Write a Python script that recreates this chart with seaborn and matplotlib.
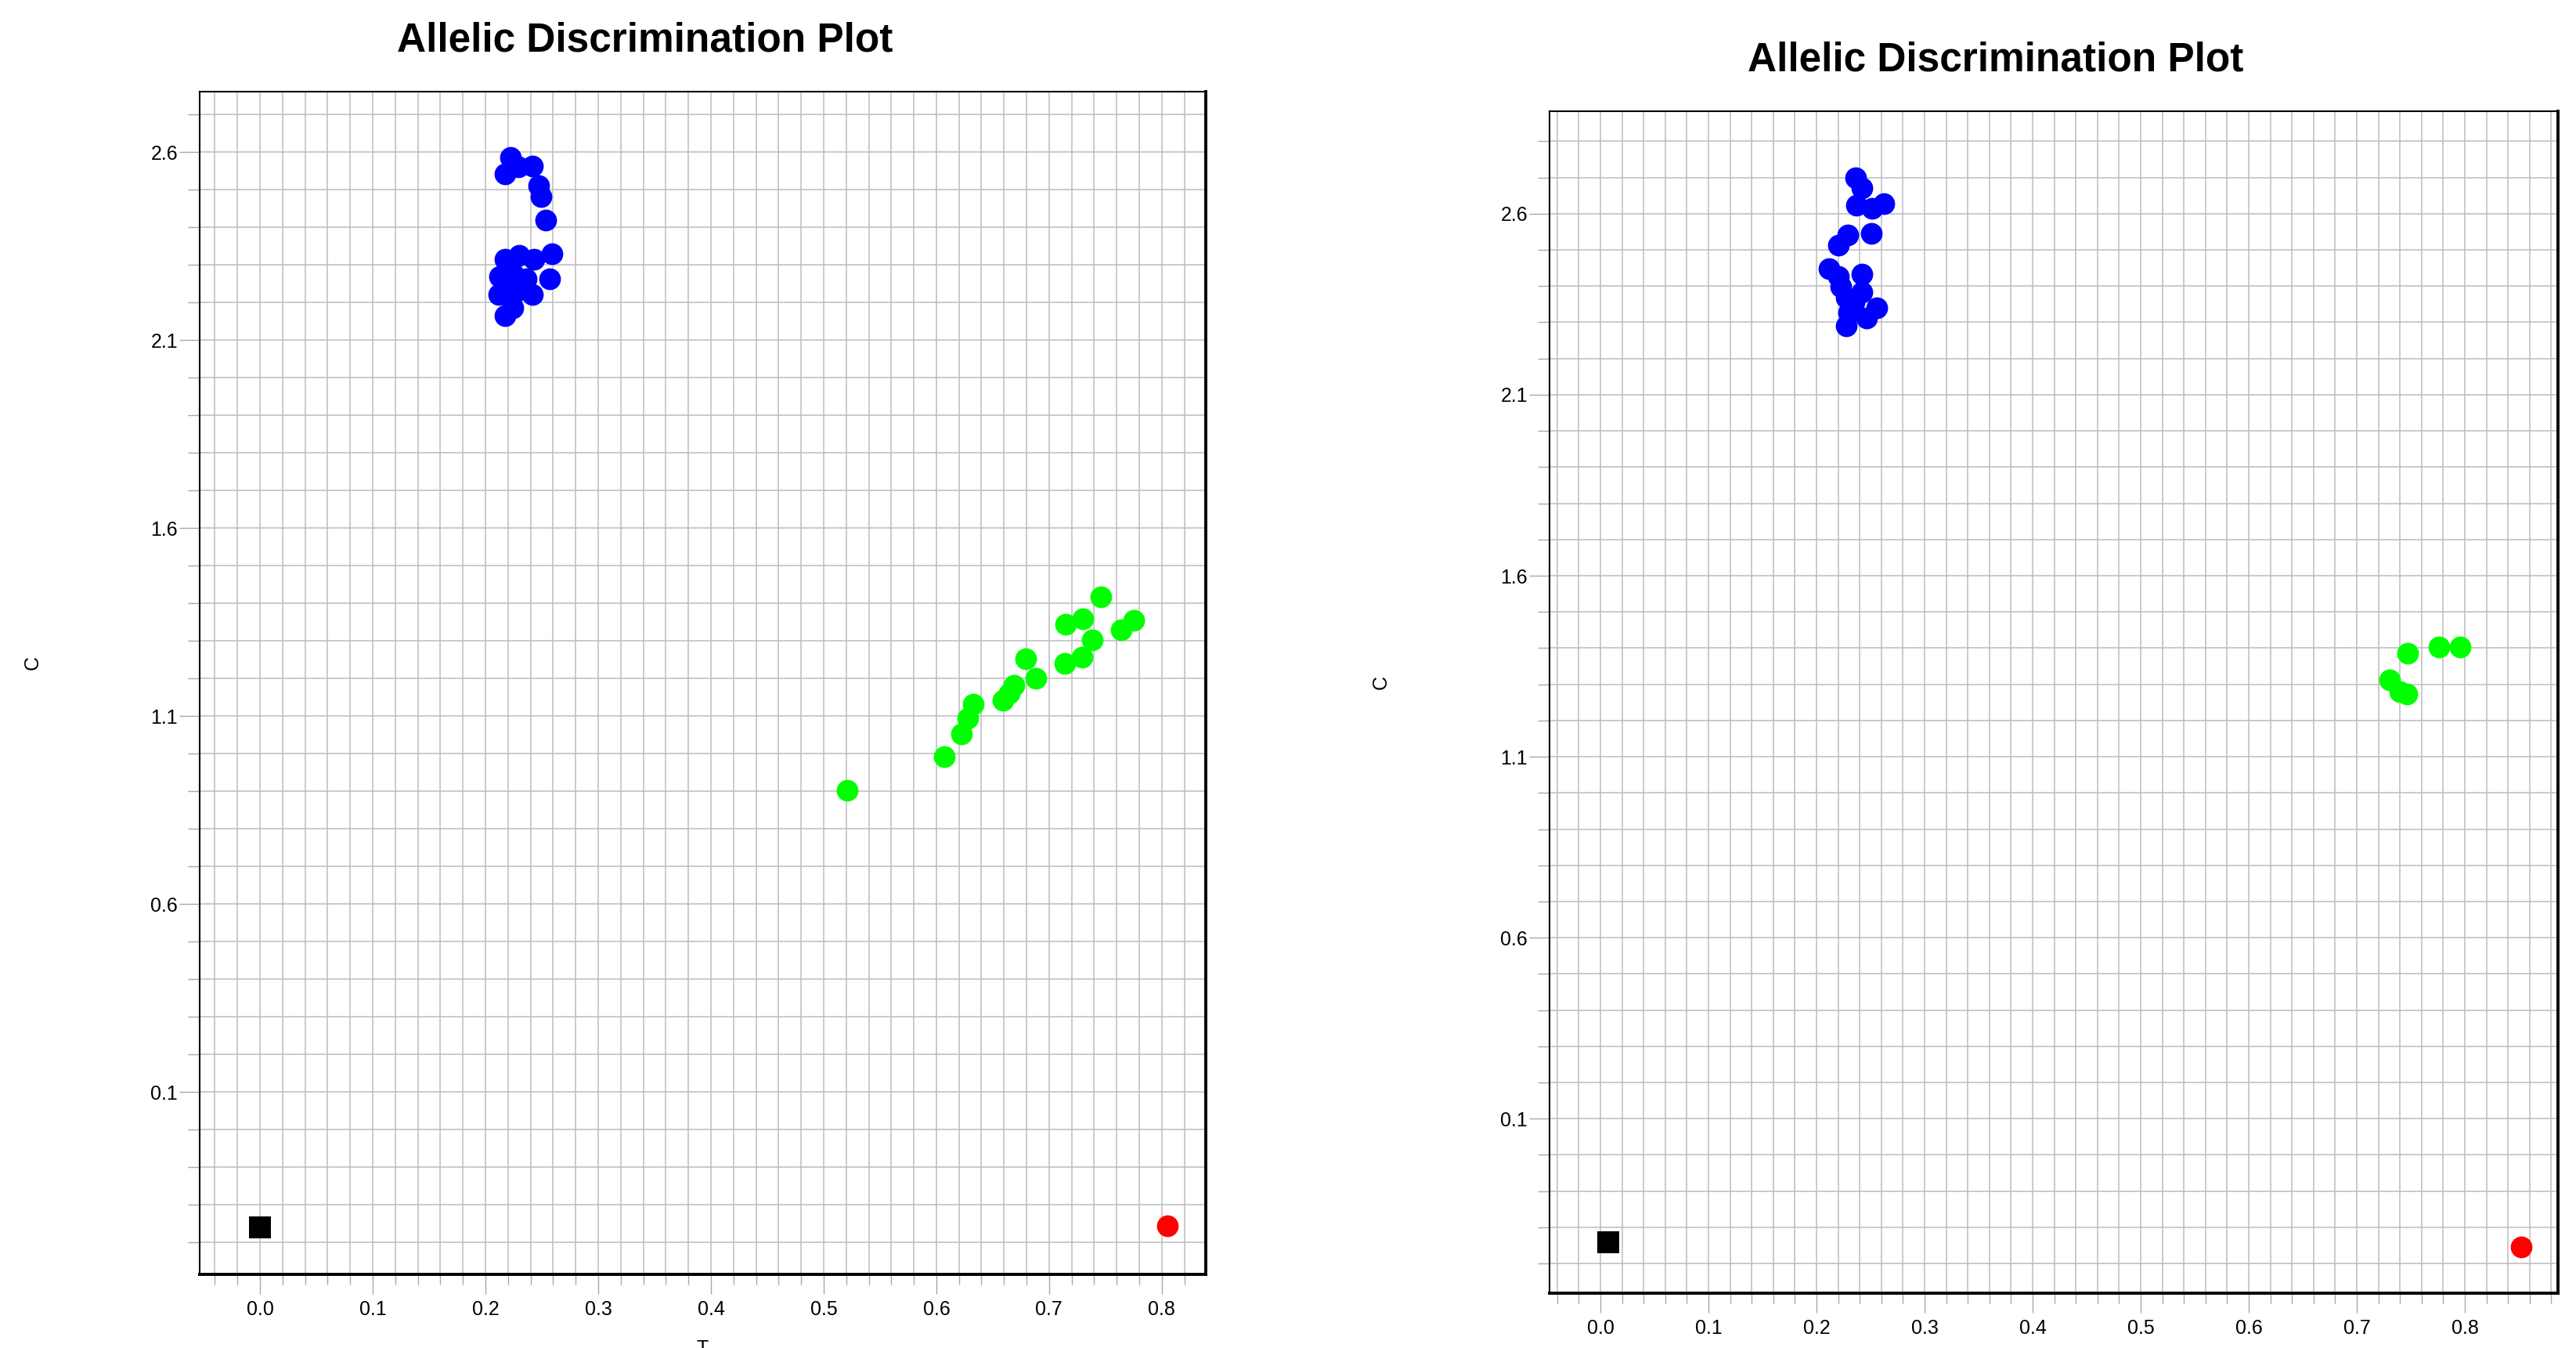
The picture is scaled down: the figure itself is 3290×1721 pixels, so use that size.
import matplotlib
matplotlib.use("Agg")
import matplotlib.pyplot as plt
from matplotlib.ticker import FixedLocator, MultipleLocator, FixedFormatter, NullFormatter
import seaborn as sns
import pandas as pd

# ---------------- data ----------------
title_text = "Allelic Discrimination Plot"
x_label = "T"
y_label = "C"
x_ticks = [0.0, 0.1, 0.2, 0.3, 0.4, 0.5, 0.6, 0.7, 0.8]
x_tick_labels = ["0.0", "0.1", "0.2", "0.3", "0.4", "0.5", "0.6", "0.7", "0.8"]
y_ticks = [0.1, 0.6, 1.1, 1.6, 2.1, 2.6]
y_tick_labels = ["0.1", "0.6", "1.1", "1.6", "2.1", "2.6"]

# left panel
left_blue_x = [0.2225, 0.2174, 0.229, 0.2417, 0.2475, 0.2494, 0.2533, 0.259,
               0.2174, 0.230, 0.243, 0.2568, 0.2128, 0.2244, 0.236, 0.2116,
               0.2267, 0.2417, 0.2174, 0.2244, 0.220, 0.231]
left_blue_y = [2.585, 2.543, 2.560, 2.564, 2.512, 2.481, 2.419, 2.329,
               2.315, 2.325, 2.315, 2.263, 2.270, 2.277, 2.263, 2.221,
               2.228, 2.221, 2.166, 2.187, 2.242, 2.249]
left_green_x = [0.521, 0.607, 0.622, 0.628, 0.633, 0.659, 0.665, 0.669, 0.679,
                0.688, 0.714, 0.729, 0.738, 0.715, 0.730, 0.746, 0.764, 0.775]
left_green_y = [0.903, 0.992, 1.052, 1.094, 1.132, 1.142, 1.160, 1.181, 1.253,
                1.201, 1.240, 1.257, 1.302, 1.344, 1.358, 1.417, 1.330, 1.354]
left_red_x = [0.805]
left_red_y = [-0.256]
left_ntc_x = [0.0]
left_ntc_y = [-0.26]

# right panel
right_blue_x = [0.2359, 0.2419, 0.237, 0.2516, 0.262, 0.2504, 0.220, 0.229,
                0.2118, 0.220, 0.242, 0.2275, 0.242, 0.256, 0.230, 0.2275,
                0.2467, 0.2226, 0.2347]
right_blue_y = [2.700, 2.671, 2.624, 2.614, 2.628, 2.545, 2.513, 2.542,
                2.448, 2.427, 2.434, 2.369, 2.383, 2.340, 2.326, 2.290,
                2.311, 2.398, 2.355]
right_green_x = [0.7473, 0.7764, 0.7958, 0.7303, 0.740, 0.746]
right_green_y = [1.386, 1.404, 1.404, 1.313, 1.280, 1.273]
right_red_x = [0.852]
right_red_y = [-0.255]
right_ntc_x = [0.007]
right_ntc_y = [-0.242]

# ---------------- style ----------------
sns.set_theme(style="white")
plt.rcParams["font.family"] = ["Liberation Sans", "DejaVu Sans"]
plt.rcParams["text.color"] = "black"
plt.rcParams["axes.labelcolor"] = "black"

fig = plt.figure(figsize=(32.9, 17.21), dpi=100)
ax_l = fig.add_axes([255 / 3290, (1721 - 1626.5) / 1721, (1540 - 255) / 3290, (1626.5 - 117) / 1721])
ax_r = fig.add_axes([1979 / 3290, (1721 - 1651) / 1721, (3267 - 1979) / 3290, (1651 - 141.6) / 1721])

GRID = "#bcbcbc"
TICK = "#a8a8a8"
MS = 400


def draw(ax, bx, by, gx, gy, rx, ry, nx, ny):
    sns.scatterplot(x=bx, y=by, ax=ax, color="#0000ff", s=MS, linewidth=0, legend=False, zorder=3)
    sns.scatterplot(x=gx, y=gy, ax=ax, color="#00ff00", s=MS, linewidth=0, legend=False, zorder=3)
    sns.scatterplot(x=rx, y=ry, ax=ax, color="#ff0000", s=MS, linewidth=0, legend=False, zorder=3)
    sns.scatterplot(x=nx, y=ny, ax=ax, color="#000000", marker="s", s=MS, linewidth=0, legend=False, zorder=3)


draw(ax_l, left_blue_x, left_blue_y, left_green_x, left_green_y,
     left_red_x, left_red_y, left_ntc_x, left_ntc_y)
draw(ax_r, right_blue_x, right_blue_y, right_green_x, right_green_y,
     right_red_x, right_red_y, right_ntc_x, right_ntc_y)

ax_l.set_xlim(-0.0535, 0.839)
ax_l.set_ylim(-0.384, 2.761)
ax_r.set_xlim(-0.0471, 0.8862)
ax_r.set_ylim(-0.382, 2.884)

for ax in (ax_l, ax_r):
    ax.set_axisbelow(True)
    ax.xaxis.set_major_locator(FixedLocator(x_ticks))
    ax.xaxis.set_major_formatter(FixedFormatter(x_tick_labels))
    ax.xaxis.set_minor_locator(MultipleLocator(0.02))
    ax.xaxis.set_minor_formatter(NullFormatter())
    ax.yaxis.set_major_locator(FixedLocator(y_ticks))
    ax.yaxis.set_major_formatter(FixedFormatter(y_tick_labels))
    ax.yaxis.set_minor_locator(MultipleLocator(0.1))
    ax.yaxis.set_minor_formatter(NullFormatter())
    ax.grid(True, which="both", axis="both", color=GRID, linewidth=1.1)
    ax.tick_params(axis="x", which="major", bottom=True, length=18, width=1, color=TICK,
                   labelsize=18, pad=6, labelcolor="black")
    ax.tick_params(axis="x", which="minor", bottom=True, length=9, width=1, color=TICK)
    ax.tick_params(axis="y", which="major", left=True, length=19, width=1, color=TICK,
                   labelsize=18, pad=1, labelcolor="black")
    ax.tick_params(axis="y", which="minor", left=True, length=11, width=1, color=TICK)
    for side in ("left", "top"):
        ax.spines[side].set_color("black")
        ax.spines[side].set_linewidth(1.5)
    for side in ("right", "bottom"):
        ax.spines[side].set_color("black")
        ax.spines[side].set_linewidth(2.8)
    ax.set_xlabel(x_label, fontsize=18, va="top", color="black")
    ax.set_ylabel(y_label, fontsize=18, color="black")

ax_l.xaxis.set_label_coords(0.5, -0.0553)
ax_l.yaxis.set_label_coords(-0.157, 0.517)
ax_r.xaxis.set_label_coords(0.5, -0.0553)
ax_r.yaxis.set_label_coords(-0.158, 0.517)

fig.text(824 / 3290, 1 - 52 / 1721, title_text, ha="center", va="center",
         fontsize=37, fontweight="bold", color="black")
fig.text(2549 / 3290, 1 - 77 / 1721, title_text, ha="center", va="center",
         fontsize=37, fontweight="bold", color="black")

fig.savefig("out.png", dpi=100, facecolor="white")
